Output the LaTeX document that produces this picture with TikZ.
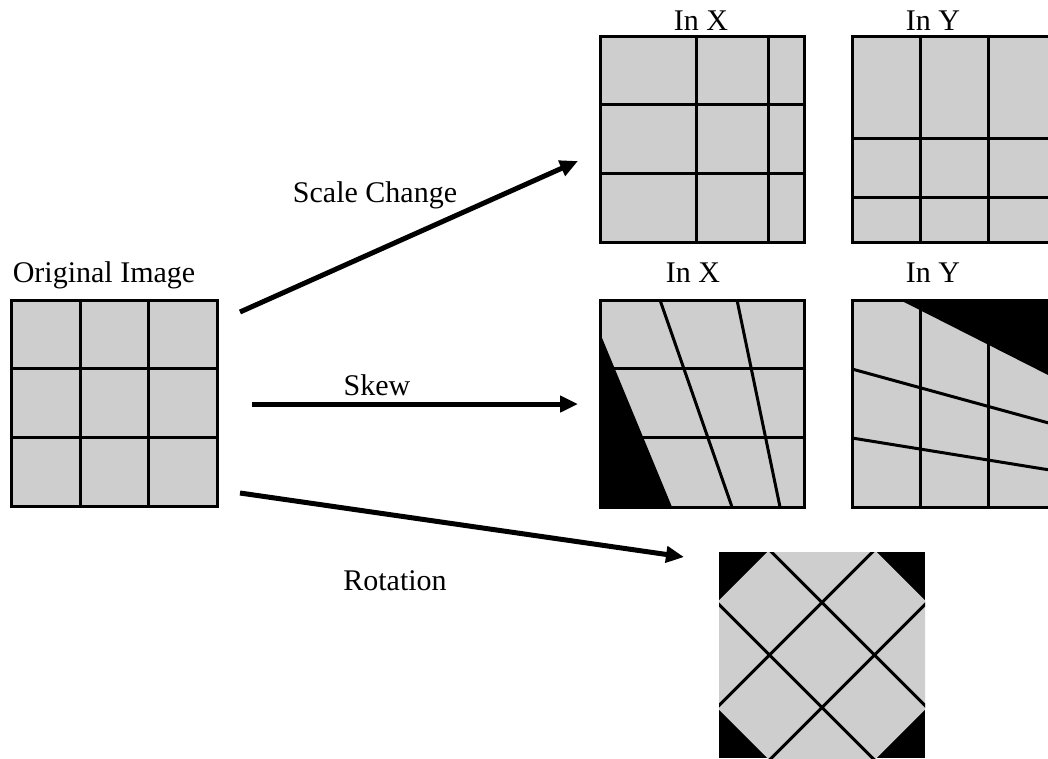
\documentclass[tikz,border=0pt]{standalone}
\usepackage{fontspec}
\setmainfont{Liberation Serif}
\usetikzlibrary{arrows.meta}
\definecolor{cellgray}{RGB}{206,206,206}
\tikzset{
  lbl/.style={anchor=base, inner sep=0pt, font=\fontsize{30}{35}\selectfont},
  gridline/.style={line width=3pt, line cap=rect},
  boxline/.style={line width=3pt},
  bigarrow/.style={line width=5pt, -{Triangle[length=18pt,width=16pt]}},
  imgbox/.style={draw=none, fill=none, inner sep=0pt, minimum width=206pt, minimum height=206pt}
}
\begin{document}
\begin{tikzpicture}[x=1pt,y=-1pt]
\useasboundingbox (0,0) rectangle (1048,758);
\clip (0,0) rectangle (1048,758);

% ---------- labels ----------
\node[lbl] (lorig) at (104,282) {Original Image};
\node[lbl] (lsx) at (701,30) {In X};
\node[lbl] (lsy) at (933,30) {In Y};
\node[lbl] (lkx) at (693,282) {In X};
\node[lbl] (lky) at (933,282) {In Y};
\node[lbl] (lscale) at (375,202) {Scale Change};
\node[lbl] (lskew) at (377,395) {Skew};
\node[lbl] (lrot) at (395,590) {Rotation};

% ---------- image boxes (named) ----------
\node[imgbox] (orig) at (114,403) {};
\node[imgbox] (scx) at (702,139) {};
\node[imgbox] (scy) at (954,139) {};
\node[imgbox] (skx) at (702,403.5) {};
\node[imgbox] (sky) at (954,403.5) {};
\node[imgbox] (rot) at (822,655) {};

% ---------- original ----------
\fill[cellgray] (11,300) rectangle (217,506);
\draw[gridline] (80,300) -- (80,506) (148,300) -- (148,506)
                (11,368) -- (217,368) (11,437) -- (217,437);
\draw[boxline] (11,300) rectangle (217,506);

% ---------- scale in X ----------
\fill[cellgray] (600,36) rectangle (804,242);
\draw[gridline] (696,36) -- (696,242) (768,36) -- (768,242)
                (600,104) -- (804,104) (600,173) -- (804,173);
\draw[boxline] (600,36) rectangle (804,242);

% ---------- scale in Y ----------
\fill[cellgray] (852,36) rectangle (1056,242);
\draw[gridline] (920,36) -- (920,242) (988,36) -- (988,242)
                (852,138) -- (1056,138) (852,197) -- (1056,197);
\draw[boxline] (852,36) rectangle (1056,242);

% ---------- skew in X ----------
\fill[cellgray] (600,300) rectangle (804,507);
\fill[black] (600,333) -- (672,507) -- (600,507) -- cycle;
\draw[gridline] (600,368) -- (804,368) (600,437) -- (804,437);
\draw[gridline, line cap=butt] (660,300) -- (732,507) (737,300) -- (780,507);
\draw[boxline] (600,300) rectangle (804,507);

% ---------- skew in Y ----------
\fill[cellgray] (852,300) rectangle (1056,507);
\fill[black] (900,300) -- (1056,379) -- (1056,300) -- cycle;
\draw[gridline] (920,300) -- (920,507) (988,300) -- (988,507);
\draw[gridline, line cap=butt] (852,369) -- (1056,425) (852,438) -- (1056,471);
\draw[boxline] (852,300) rectangle (1056,507);

% ---------- rotation ----------
\fill[black] (719,552) rectangle (925,758);
\begin{scope}
  \clip (719,552) rectangle (925,758);
  \begin{scope}[shift={(822,655)}, rotate=45]
    \fill[cellgray] (-111.4,-111.4) rectangle (111.4,111.4);
    \draw[gridline, line cap=butt] (-37.1,-111.4) -- (-37.1,111.4)
          (37.1,-111.4) -- (37.1,111.4)
          (-111.4,-37.1) -- (111.4,-37.1)
          (-111.4,37.1) -- (111.4,37.1);
  \end{scope}
\end{scope}

% ---------- arrows ----------
\coordinate (a1s) at (240,312);
\coordinate (a1e) at (578,161);
\coordinate (a2s) at (252,404);
\coordinate (a2e) at (578,404);
\coordinate (a3s) at (240,493);
\coordinate (a3e) at (684,557);
\draw[bigarrow] (a1s) -- (a1e);
\draw[bigarrow] (a2s) -- (a2e);
\draw[bigarrow] (a3s) -- (a3e);
\end{tikzpicture}
\end{document}
